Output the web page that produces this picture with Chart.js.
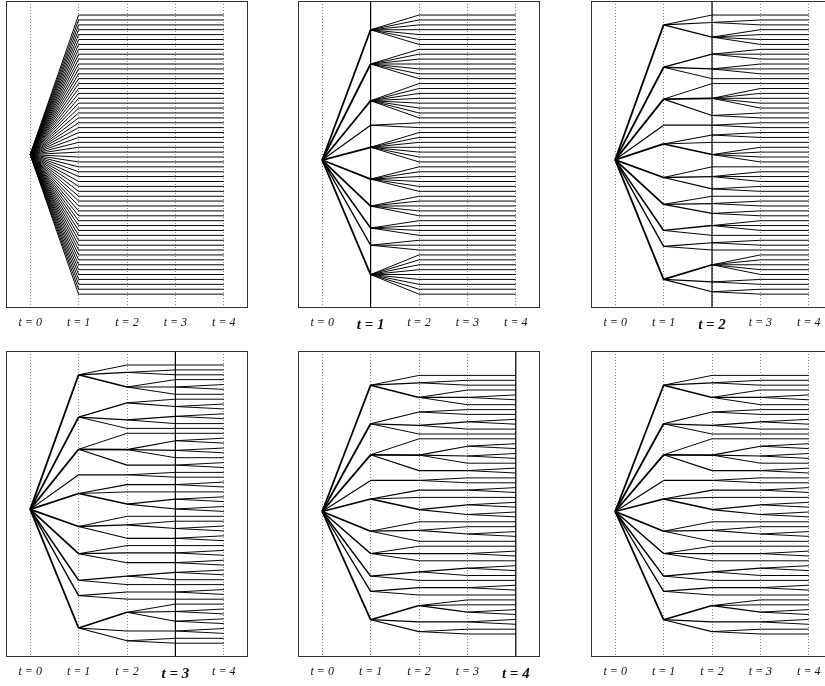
<!DOCTYPE html>
<html><head><meta charset="utf-8">
<script src="https://cdn.jsdelivr.net/npm/chart.js@4/dist/chart.umd.min.js"></script>
<style>
html,body{margin:0;padding:0;background:#fff;overflow:hidden;width:825px;height:686px;position:relative;}
canvas{position:absolute;}
</style></head><body>
<canvas id="c1" width="254" height="345" style="left:0px;top:-5px"></canvas>
<canvas id="c2" width="254" height="345" style="left:292px;top:-5px"></canvas>
<canvas id="c3" width="254" height="345" style="left:585px;top:-5px"></canvas>
<canvas id="c4" width="254" height="344" style="left:0px;top:345px"></canvas>
<canvas id="c5" width="254" height="344" style="left:292px;top:345px"></canvas>
<canvas id="c6" width="254" height="344" style="left:585px;top:345px"></canvas>
<script>
// ---- stage axis ----
const STAGES = [0, 1, 2, 3, 4];
const TICK_LABELS = ['t = 0', 't = 1', 't = 2', 't = 3', 't = 4'];

// ---- scenario (leaf) values, measured down from the top of the frame ----
const LEAVES = [14.0,18.9,23.8,28.6,33.5,38.4,43.3,48.2,53.0,57.9,62.8,67.7,72.6,77.4,82.3,87.2,92.1,97.0,101.8,106.7,111.6,116.5,121.4,126.2,131.1,136.0,140.9,145.8,150.6,155.5,160.4,165.3,170.2,175.0,179.9,184.8,189.7,194.6,199.4,204.3,209.2,214.1,219.0,223.8,228.7,233.6,238.5,243.4,248.2,253.1,258.0,262.9,267.8,272.6,277.5,282.4,287.3,292.2];

// panel 1: original fan of scenarios
const P1_ROOT = 153.1;

// panel 2: tree after reduction at t = 1
const P2_ROOT = 158.5;
const P2_T1 = [28.7,62.8,99.4,123.8,145.8,177.5,204.4,226.3,243.4,272.7];
const P2_UP2 = [0,0,0,0,0,0,0,1,1,1,1,1,1,1,2,2,2,2,2,2,2,2,3,3,4,4,4,4,4,4,4,5,5,5,5,5,5,6,6,6,6,6,7,7,7,7,8,8,8,9,9,9,9,9,9,9,9,9];

// panel 3: tree after reduction at t = 2
const P3_ROOT = 158.3;
const P3_T1 = [23.8,66.0,97.8,123.8,142.5,175.9,202.7,228.7,244.6,277.5];
const P3_T2 = [14.0,21.4,36.0,53.0,67.7,77.4,82.3,97.0,114.1,123.8,133.6,140.9,153.1,165.3,175.0,187.3,194.6,201.9,211.7,223.8,233.6,241.0,248.2,262.9,280.0,289.8];
const P3_UP2 = [0,0,0,1,1,1,2,2,2,3,4,4,4,5,5,5,6,6,6,7,7,8,8,9,9,9];
const P3_UP3 = [0,1,1,2,2,2,2,3,3,3,4,4,4,5,6,7,7,7,7,7,8,8,9,9,10,10,11,12,12,12,12,13,14,14,14,15,15,16,17,17,18,18,19,19,19,20,21,21,22,23,23,23,23,23,24,24,25,25];

// panel 4: tree after reduction at t = 3
const P4_ROOT = 158.4;
const P4_T1 = [23.8,66.1,98.3,123.8,142.5,175.5,202.7,229.3,244.6,277.0];
const P4_T2 = [14.0,21.4,36.0,51.8,68.9,77.4,82.3,98.6,114.1,123.8,133.6,140.9,153.1,165.3,173.8,187.3,194.6,201.9,211.7,225.1,233.6,241.0,248.2,261.3,280.0,289.8];
const P4_UP2 = [0,0,0,1,1,1,2,2,2,3,4,4,4,5,5,5,6,6,6,7,7,8,8,9,9,9];
const P4_T3 = [14.0,18.9,23.8,28.6,36.0,43.3,48.2,55.5,65.3,72.6,77.4,82.3,89.7,99.4,106.7,114.1,121.4,126.2,133.6,140.9,148.2,158.0,165.3,170.2,177.5,187.3,194.6,201.9,211.7,221.4,228.7,233.6,241.0,248.2,253.1,260.5,270.2,280.0,287.3,292.2];
const P4_UP3 = [0,1,1,2,2,2,3,3,4,4,5,6,7,7,7,8,9,9,10,11,12,12,13,14,14,15,16,17,18,19,19,20,21,22,23,23,23,24,25,25];
const P4_UP4 = [0,1,2,3,4,4,5,6,7,7,8,8,9,10,11,12,12,13,13,14,15,15,16,17,18,18,19,20,20,21,21,22,23,24,24,25,25,26,27,27,28,28,29,29,30,31,32,32,33,34,35,35,36,36,37,37,38,39];

// panels 5 and 6: final tree after reduction at t = 4
const P5_ROOT = 160.5;
const P5_T1 = [34.2,72.8,103.8,129.4,148.0,180.2,202.5,225.1,240.3,268.7];
const P5_T2 = [24.4,31.8,46.4,61.0,74.4,83.0,87.8,104.1,119.6,129.4,139.1,146.4,158.6,170.8,179.4,190.3,195.2,202.6,209.8,220.8,229.4,236.7,244.0,254.6,270.9,280.6];
const P5_UP2 = [0,0,0,1,1,1,2,2,2,3,4,4,4,5,5,5,6,6,6,7,7,8,8,9,9,9];
const P5_T3 = [24.4,29.3,34.2,39.0,46.4,53.7,58.6,63.4,70.8,78.1,83.0,87.8,95.2,105.0,112.2,119.6,126.9,131.8,139.1,146.4,153.8,163.5,170.8,175.7,183.0,190.3,195.2,202.6,209.8,217.2,224.5,229.4,236.7,244.0,248.9,253.8,261.1,270.9,278.2,283.0];
const P5_UP3 = [0,1,1,2,2,2,3,3,4,4,5,6,7,7,7,8,9,9,10,11,12,12,13,14,14,15,16,17,18,19,19,20,21,22,23,23,23,24,25,25];
const P5_T4 = [24.4,29.3,34.2,39.0,43.9,48.8,53.7,58.6,63.4,68.3,73.2,78.1,83.0,87.8,92.7,97.6,102.5,107.4,112.2,117.1,122.0,126.9,131.8,136.6,141.5,146.4,151.3,156.2,161.0,165.9,170.8,175.7,180.6,185.4,190.3,195.2,200.1,205.0,209.8,214.7,219.6,224.5,229.4,234.2,239.1,244.0,248.9,253.8,258.6,263.5,268.4,273.3,278.2,283.0];
const P5_UP4 = [0,1,2,3,4,4,5,6,7,8,8,9,10,11,12,12,13,13,14,15,15,16,17,18,18,19,20,20,21,21,22,23,24,24,25,26,27,27,28,29,29,30,31,32,32,33,34,35,36,36,37,37,38,39];

const PANELS = [
  {id:'c1', hl:null, root:P1_ROOT, levels:[LEAVES], ups:[]},
  {id:'c2', hl:1, root:P2_ROOT, levels:[P2_T1, LEAVES], ups:[P2_UP2]},
  {id:'c3', hl:2, root:P3_ROOT, levels:[P3_T1, P3_T2, LEAVES], ups:[P3_UP2, P3_UP3]},
  {id:'c4', hl:3, root:P4_ROOT, levels:[P4_T1, P4_T2, P4_T3, LEAVES], ups:[P4_UP2, P4_UP3, P4_UP4]},
  {id:'c5', hl:4, root:P5_ROOT, levels:[P5_T1, P5_T2, P5_T3, P5_T4], ups:[P5_UP2, P5_UP3, P5_UP4]},
  {id:'c6', hl:null, root:P5_ROOT, levels:[P5_T1, P5_T2, P5_T3, P5_T4], ups:[P5_UP2, P5_UP3, P5_UP4]}
];

const Y_MAX = 306;
function widthFor(n){ return Math.min(1.8, 0.8 + 0.18 * n); }

function buildDatasets(p){
  const lv = [[p.root]].concat(p.levels);
  const parentOf = (t, i) => t === 1 ? 0 : p.ups[t - 2][i];
  const counts = lv.map(a => a.map(() => 0));
  const hasChild = lv.map(a => a.map(() => false));
  for (let t = lv.length - 1; t >= 1; t--) {
    lv[t].forEach((v, i) => {
      if (counts[t][i] === 0) counts[t][i] = 1;
      const pi = parentOf(t, i);
      counts[t - 1][pi] += counts[t][i];
      hasChild[t - 1][pi] = true;
    });
  }
  const ds = [];
  const seg = (x0, y0, x1, y1, w) => ds.push({
    data: [{x: x0, y: y0}, {x: x1, y: y1}],
    borderColor: '#000', borderWidth: w, pointRadius: 0, fill: false, tension: 0
  });
  for (let t = 1; t < lv.length; t++) {
    lv[t].forEach((v, i) => {
      const pv = lv[t - 1][parentOf(t, i)];
      seg(STAGES[t - 1], pv, STAGES[t], v, widthFor(counts[t][i]));
      if (!hasChild[t][i] && t < 4) seg(STAGES[t], v, STAGES[4], v, widthFor(1));
    });
  }
  if (p.hl !== null) {
    ds.push({data: [{x: p.hl, y: 0}, {x: p.hl, y: Y_MAX}], borderColor: '#000', borderWidth: 1.2, pointRadius: 0, fill: false});
  }
  return ds;
}

const framePlugin = {
  id: 'frame',
  afterDatasetsDraw(chart){
    const {ctx, chartArea: a} = chart;
    ctx.save();
    ctx.strokeStyle = '#333';
    ctx.lineWidth = 1;
    ctx.strokeRect(Math.round(a.left) + 0.5, Math.round(a.top) + 0.5, Math.round(a.right - a.left) - 1, Math.round(a.bottom - a.top) - 1);
    ctx.restore();
  }
};

PANELS.forEach(p => {
  new Chart(document.getElementById(p.id), {
    type: 'line',
    data: {datasets: buildDatasets(p)},
    plugins: [framePlugin],
    options: {
      responsive: false,
      animation: false,
      events: [],
      layout: {padding: {left: 6, right: 6, top: 6, bottom: 0}},
      plugins: {legend: {display: false}, tooltip: {enabled: false}},
      scales: {
        x: {
          type: 'linear', min: -0.5, max: 4.5,
          afterBuildTicks: s => { s.ticks = STAGES.map(v => ({value: v})); },
          afterFit: s => { s.height = 32; },
          grid: {color: '#8a8a8a', lineWidth: 1, drawTicks: false},
          border: {display: false, dash: [1, 2]},
          ticks: {
            padding: 8, color: '#111',
            callback: (v, i) => TICK_LABELS[i],
            font: ctx => (ctx.tick && ctx.tick.value === p.hl)
              ? {family: 'Liberation Serif', size: 15, style: 'italic', weight: 'bold'}
              : {family: 'Liberation Serif', size: 12, style: 'italic'}
          }
        },
        y: {type: 'linear', min: 0, max: Y_MAX, reverse: true, display: false}
      }
    }
  });
});
</script>
</body></html>
